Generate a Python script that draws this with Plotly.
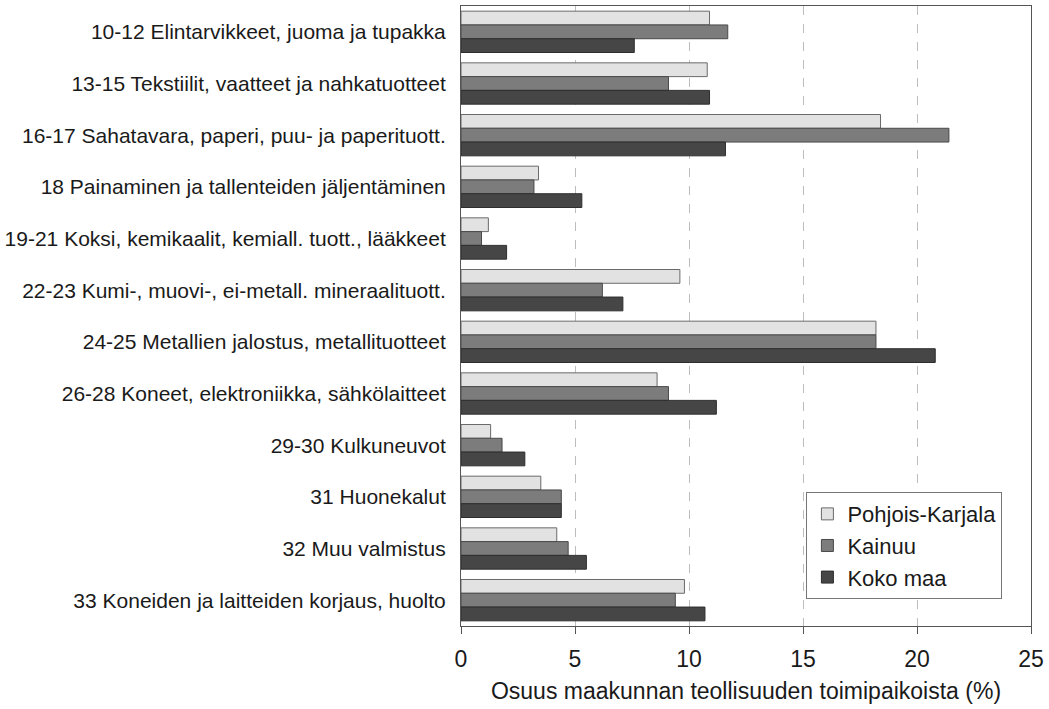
import plotly.graph_objects as go

categories = [
    "10-12 Elintarvikkeet, juoma ja tupakka",
    "13-15 Tekstiilit, vaatteet ja nahkatuotteet",
    "16-17 Sahatavara, paperi, puu- ja paperituott.",
    "18 Painaminen ja tallenteiden jäljentäminen",
    "19-21 Koksi, kemikaalit, kemiall. tuott., lääkkeet",
    "22-23 Kumi-, muovi-, ei-metall. mineraalituott.",
    "24-25 Metallien jalostus, metallituotteet",
    "26-28 Koneet, elektroniikka, sähkölaitteet",
    "29-30 Kulkuneuvot",
    "31 Huonekalut",
    "32 Muu valmistus",
    "33 Koneiden ja laitteiden korjaus, huolto",
]
pohjois_karjala = [10.9, 10.8, 18.4, 3.4, 1.2, 9.6, 18.2, 8.6, 1.3, 3.5, 4.2, 9.8]
kainuu = [11.7, 9.1, 21.4, 3.2, 0.9, 6.2, 18.2, 9.1, 1.8, 4.4, 4.7, 9.4]
koko_maa = [7.6, 10.9, 11.6, 5.3, 2.0, 7.1, 20.8, 11.2, 2.8, 4.4, 5.5, 10.7]
series_names = ["Pohjois-Karjala", "Kainuu", "Koko maa"]
x_ticks = [0, 5, 10, 15, 20, 25]

fills = ["#e2e2e2", "#7c7c7c", "#464646"]
edges = ["#6a6a6a", "#4a4a4a", "#2e2e2e"]

fig = go.Figure()
for name, vals, fc, ec in zip(series_names, [pohjois_karjala, kainuu, koko_maa], fills, edges):
    fig.add_trace(go.Bar(
        y=categories, x=vals, name=name, orientation="h",
        marker=dict(color=fc, line=dict(color=ec, width=1)),
    ))

fig.update_layout(
    width=1049, height=709,
    margin=dict(l=460, r=16, t=5, b=83),
    paper_bgcolor="white", plot_bgcolor="white",
    barmode="group", bargap=0.2, bargroupgap=0,
    font=dict(family="Liberation Sans, Arial, sans-serif", color="#1a1a1a"),
    showlegend=True,
    legend=dict(
        x=0.606, y=0.216, xanchor="left", yanchor="top",
        traceorder="normal",
        bgcolor="white", bordercolor="#777777", borderwidth=1,
        font=dict(size=22, color="#1a1a1a"),
        itemwidth=30, tracegroupgap=0,
    ),
)
fig.update_xaxes(
    range=[0, 25], tickvals=x_ticks, ticktext=[str(t) for t in x_ticks],
    showgrid=True, gridcolor="#bdbdbd", griddash="dash", gridwidth=1,
    showline=True, linecolor="#555555", linewidth=1, mirror=True,
    ticks="outside", ticklen=7, tickcolor="#555555",
    ticklabelstandoff=5,
    tickfont=dict(size=23, color="#1a1a1a"),
    title=dict(text="Osuus maakunnan teollisuuden toimipaikoista (%)",
               font=dict(size=23, color="#1a1a1a"), standoff=12),
    zeroline=False,
)
fig.update_yaxes(
    autorange="reversed", showgrid=False,
    showline=True, linecolor="#555555", linewidth=1, mirror=True,
    ticks="", ticklabelstandoff=10,
    tickfont=dict(size=21, color="#1a1a1a"),
)

fig.write_html("out.html", config={"displayModeBar": False},
               post_script="document.body.style.margin='0';")
